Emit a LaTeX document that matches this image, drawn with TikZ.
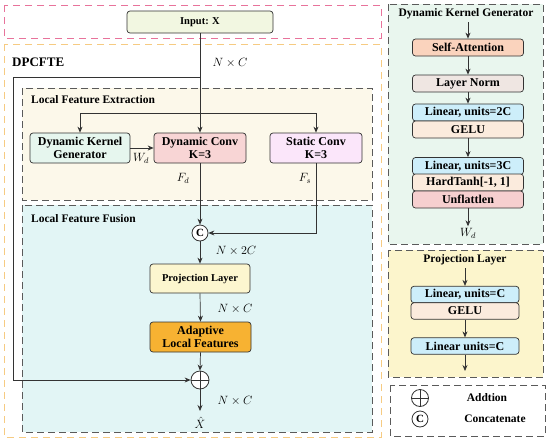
\documentclass[tikz,border=0pt]{standalone}
\usepackage{fontspec}
\setmainfont{Liberation Serif}
\usetikzlibrary{arrows.meta,calc}
\definecolor{pinkd}{HTML}{E8739B}
\definecolor{orgd}{HTML}{F6CB82}
\definecolor{grayd}{HTML}{5A5A5A}
\definecolor{lnc}{HTML}{333333}
\definecolor{cIn}{HTML}{F2F7E1}
\definecolor{cDkg}{HTML}{E6F6EE}
\definecolor{cDc}{HTML}{F8D5D5}
\definecolor{cSc}{HTML}{FBE6FA}
\definecolor{cProj}{HTML}{FCF6CF}
\definecolor{cAlf}{HTML}{F7B232}
\definecolor{cLfe}{HTML}{FCF8EA}
\definecolor{cLff}{HTML}{E2F5F5}
\definecolor{cPanA}{HTML}{E9F6EE}
\definecolor{cPanB}{HTML}{FCF5CC}
\definecolor{cSa}{HTML}{FAD3BD}
\definecolor{cLn}{HTML}{EFE6E2}
\definecolor{cLin}{HTML}{CDEEFA}
\definecolor{cGelu}{HTML}{FBEBDD}
\definecolor{cUnf}{HTML}{F6CFCF}
\begin{document}
\begin{tikzpicture}[x=1pt,y=-1pt,
  blk/.style={draw=lnc, rounded corners=3pt, line width=0.7pt, align=center, inner sep=0pt,
    font=\bfseries\fontsize{12}{13}\selectfont},
  sblk/.style={blk, minimum width=111pt, minimum height=17pt},
  pblk/.style={blk, minimum width=108pt, minimum height=16.5pt},
  arr/.style={draw=lnc, line width=0.7pt, -{Stealth[length=6pt,width=5pt]}},
  ln/.style={draw=lnc, line width=0.7pt},
  gdash/.style={draw=grayd, line width=1pt, dash pattern=on 7pt off 4pt},
  ttl/.style={font=\bfseries\fontsize{11.5}{13}\selectfont, anchor=west, inner sep=0pt},
  dim/.style={font=\fontsize{12}{14}\selectfont, inner sep=0pt},
  opc/.style={circle, draw=lnc, line width=0.8pt, fill=white, inner sep=0pt}
]
\useasboundingbox (0,0) rectangle (550,440);
% outer dashed frames
\draw[draw=pinkd, line width=1pt, dash pattern=on 7pt off 5pt] (4,5) rectangle (381,38);
\draw[draw=orgd, line width=1pt, dash pattern=on 7pt off 5pt] (4,44) rectangle (381,437);
\filldraw[gdash, fill=cLfe] (22,88) rectangle (372,200);
\filldraw[gdash, fill=cLff] (22,205) rectangle (372,432);
\node[ttl, font=\bfseries\fontsize{13}{15}\selectfont] (tdp) at (12,62) {DPCFTE};
\node[ttl] (tlfe) at (31,100) {Local Feature Extraction};
\node[ttl] (tlff) at (31,219) {Local Feature Fusion};

% main nodes
\node[blk, fill=cIn, minimum width=146pt, minimum height=22pt, font=\bfseries\fontsize{10.5}{12}\selectfont] (in) at (200,22) {Input: X};
\node[blk, fill=cDkg, minimum width=100pt, minimum height=30pt] (dkg) at (80,148) {Dynamic Kernel\\Generator};
\node[blk, fill=cDc, minimum width=92pt, minimum height=30pt] (dconv) at (200,148) {Dynamic Conv\\K=3};
\node[blk, fill=cSc, minimum width=92pt, minimum height=30pt] (sconv) at (316,148) {Static Conv\\K=3};
\node[opc, minimum size=16pt, font=\bfseries\fontsize{11}{12}\selectfont] (cat) at (200,233) {C};
\node[blk, fill=cProj, minimum width=100pt, minimum height=29pt, font=\bfseries\fontsize{10.5}{12}\selectfont] (proj) at (200,278.5) {Projection Layer};
\node[blk, fill=cAlf, minimum width=101pt, minimum height=30pt] (alf) at (200.5,337) {Adaptive\\Local Features};
\node[opc, minimum size=18pt] (plus) at (200,380) {};
\draw[ln] (plus.north) -- (plus.south) (plus.west) -- (plus.east);
\node[dim] (xhat) at (200,423) {$\hat{X}$};
\coordinate (xe) at (200,411);

% dims
\node[dim] (d1) at (230,63) {$N\times C$};
\node[dim] (wd) at (141,158) {$W_d$};
\node[dim] (fd) at (183,178) {$F_d$};
\node[dim] (fs) at (305,178) {$F_s$};
\node[dim] (d2) at (236,251) {$N\times 2C$};
\node[dim] (d3) at (235,309) {$N\times C$};
\node[dim] (d4) at (235,401) {$N\times C$};

% connectors
\coordinate (rs) at (200,77);
\coordinate (br) at (200,113);
\draw[arr] (in.south) -- (dconv.north);
\draw[arr] (br) -| (dkg.north);
\draw[arr] (br) -| (sconv.north);
\draw[arr] (rs) -- (13,77) |- (plus.west);
\draw[arr] (dkg.east) -- (dconv.west);
\draw[arr] (dconv.south) -- (cat.north);
\draw[arr] (sconv.south) |- (cat.east);
\draw[arr] (cat.south) -- (proj.north);
\draw[arr] (proj.south) -- (alf.north);
\draw[arr] (alf.south) -- (plus.north);
\draw[arr] (plus.south) -- (xe);

% right panel: Dynamic Kernel Generator
\filldraw[gdash, fill=cPanA] (388,4) rectangle (543,244);
\node[font=\bfseries\fontsize{11.5}{13}\selectfont, inner sep=0pt] (t1) at (466,14) {Dynamic Kernel Generator};
\node[sblk, fill=cSa] (sa) at (468,47.5) {Self-Attention};
\node[sblk, fill=cLn] (lnorm) at (468,83.5) {Layer Norm};
\node[sblk, fill=cLin] (l2c) at (468,112.5) {Linear, units=2C};
\node[sblk, fill=cGelu] (g1) at (468,129.5) {GELU};
\node[sblk, fill=cLin] (l3c) at (468,166) {Linear, units=3C};
\node[sblk, fill=cGelu] (ht) at (468,182.5) {HardTanh[-1, 1]};
\node[sblk, fill=cUnf] (unf) at (468,199.5) {Unflattlen};
\node[dim] (wd2) at (468,233) {$W_d$};
\coordinate (s1) at (468,22);
\draw[arr] (s1) -- (sa.north);
\draw[arr] (sa.south) -- (lnorm.north);
\draw[arr] (lnorm.south) -- (l2c.north);
\draw[arr] (g1.south) -- (l3c.north);
\draw[arr] (unf.south) -- ($(wd2.north)+(0,-1.5)$);

% right panel: Projection Layer
\filldraw[gdash, fill=cPanB] (388,250) rectangle (543,377);
\node[font=\bfseries\fontsize{11.5}{13}\selectfont, inner sep=0pt] (t2) at (465,260) {Projection Layer};
\node[pblk, fill=cLin] (pl1) at (465,294.5) {Linear, units=C};
\node[pblk, fill=cGelu] (pg) at (465,311) {GELU};
\node[pblk, fill=cLin] (pl2) at (465,346) {Linear units=C};
\coordinate (s2) at (465,268);
\coordinate (e2) at (465,371);
\draw[arr] (s2) -- (pl1.north);
\draw[arr] (pg.south) -- (pl2.north);
\draw[arr] (pl2.south) -- (e2);

% legend
\draw[gdash, fill=white] (390,385) rectangle (545,436);
\node[opc, minimum size=17pt] (lp) at (420,398) {};
\draw[ln] (lp.north) -- (lp.south) (lp.west) -- (lp.east);
\node[opc, minimum size=16pt, font=\bfseries\fontsize{11}{12}\selectfont] (lc) at (420,419) {C};
\node[font=\bfseries\fontsize{11.5}{13}\selectfont, inner sep=0pt] (la) at (487,398) {Addtion};
\node[font=\bfseries\fontsize{11.5}{13}\selectfont, inner sep=0pt] (lcc) at (495,419) {Concatenate};
\end{tikzpicture}
\end{document}
